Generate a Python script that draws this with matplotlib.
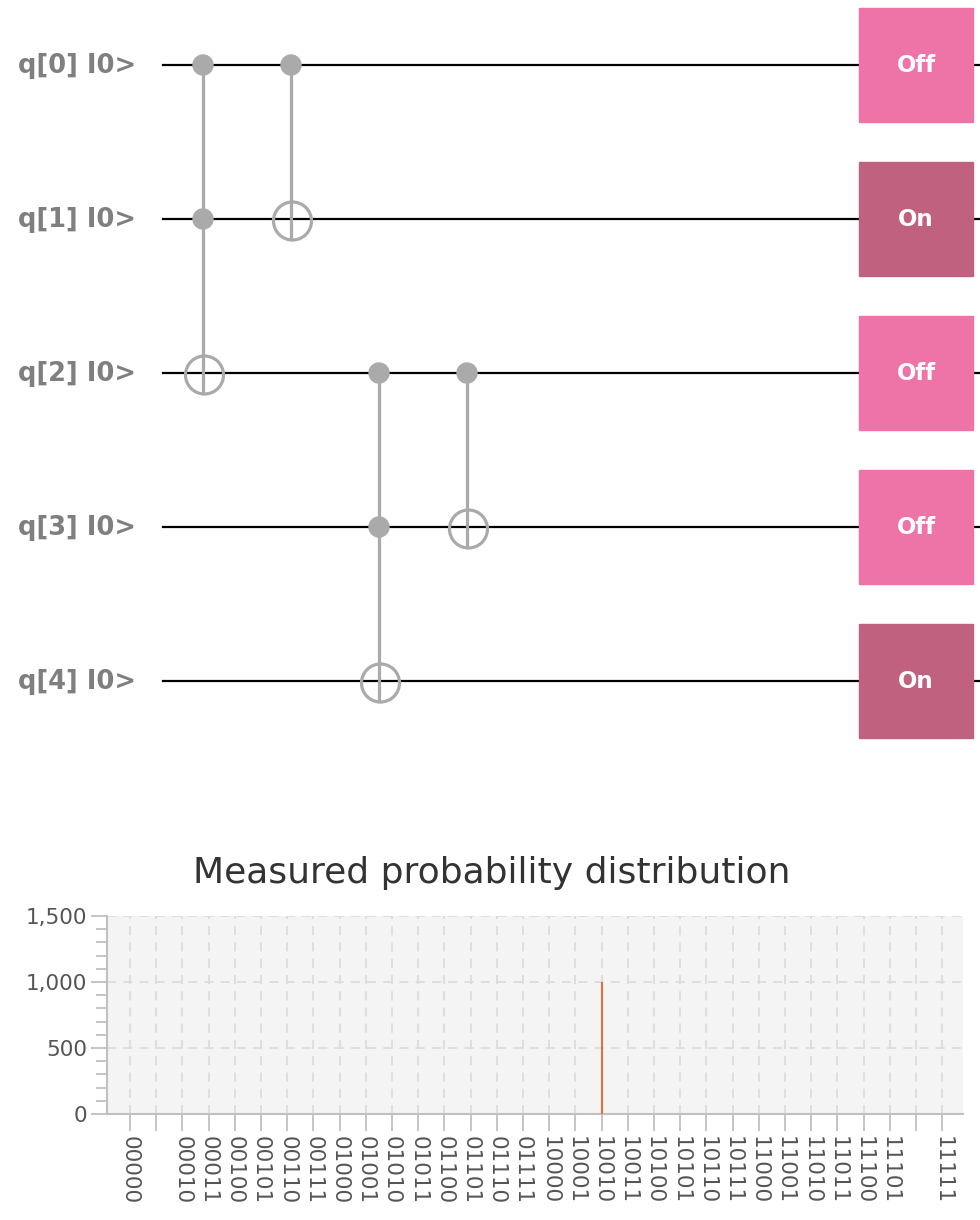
import matplotlib.pyplot as plt
from matplotlib.patches import Circle, Rectangle
from matplotlib.ticker import MultipleLocator, FuncFormatter

# circuit data
qubit_labels = ['q[0] I0>', 'q[1] I0>', 'q[2] I0>', 'q[3] I0>', 'q[4] I0>']
# (controls, target) per column
gates = [([0, 1], 2), ([0], 1), ([2, 3], 4), ([2], 3)]
readout = ['Off', 'On', 'Off', 'Off', 'On']

# measurement data
states = ['00000', '00001', '00010', '00011', '00100', '00101', '00110', '00111',
          '01000', '01001', '01010', '01011', '01100', '01101', '01110', '01111',
          '10000', '10001', '10010', '10011', '10100', '10101', '10110', '10111',
          '11000', '11001', '11010', '11011', '11100', '11101', '11110', '11111']
shown_labels = ['00000', '', '00010', '00011', '00100', '00101', '00110', '00111',
                '01000', '01001', '01010', '01011', '01100', '01101', '01110', '01111',
                '10000', '10001', '10010', '10011', '10100', '10101', '10110', '10111',
                '11000', '11001', '11010', '11011', '11100', '11101', '', '11111']
counts = [0, 0, 0, 0, 0, 0, 0, 0, 0, 0, 0, 0, 0, 0, 0, 0,
          0, 0, 1000, 0, 0, 0, 0, 0, 0, 0, 0, 0, 0, 0, 0, 0]

gate_color = '#aaaaaa'
colors = {'Off': '#ee73a7', 'On': '#bf617f'}

fig = plt.figure(figsize=(9.8, 12.2), dpi=100)

# ---- circuit, drawn in pixel-like units
ax = fig.add_axes([0, 1 - 760 / 1220, 1, 760 / 1220])
ax.set_xlim(0, 980)
ax.set_ylim(760, 0)
ax.axis('off')

wire_y0, wire_gap = 65, 154
col_x0, col_gap = 203, 88
box_x, box_size = 859, 114

for i, lab in enumerate(qubit_labels):
    y = wire_y0 + i * wire_gap
    ax.plot([163, 980], [y, y], color='black', lw=1.6, zorder=1)
    ax.text(18, y + 1, lab, ha='left', va='center', fontsize=18.5,
            fontweight='bold', color='#7f7f7f')
    ax.add_patch(Rectangle((box_x, y - box_size / 2), box_size, box_size,
                           color=colors[readout[i]], zorder=3))
    ax.text(box_x + box_size / 2, y, readout[i], ha='center', va='center',
            fontsize=16.5, fontweight='bold', color='white', zorder=4)

for c, (ctrls, tgt) in enumerate(gates):
    x = col_x0 + c * col_gap
    ys = [wire_y0 + q * wire_gap for q in ctrls]
    ty = wire_y0 + tgt * wire_gap
    ax.plot([x, x], [min(ys + [ty]), ty + 20], color=gate_color, lw=2.3, zorder=2)
    for y in ys:
        ax.add_patch(Circle((x, y), 10, color=gate_color, zorder=2))
    ax.add_patch(Circle((x + 1.5, ty + 2), 19, fill=False, ec=gate_color,
                        lw=2.3, zorder=2))

# ---- histogram
hx = fig.add_axes([107 / 980, 106 / 1220, 856 / 980, 198 / 1220])
hx.set_facecolor('#f4f4f4')
pos = list(range(len(states)))
hx.bar(pos, counts, width=0.08, color='#f5643c', zorder=3)
hx.set_xlim(-0.88, 31.79)
hx.set_ylim(0, 1500)
hx.set_xticks(pos)
hx.set_xticklabels(shown_labels, rotation=-90, fontsize=15.5, color='#555555')
hx.yaxis.set_major_locator(MultipleLocator(500))
hx.yaxis.set_minor_locator(MultipleLocator(100))
hx.yaxis.set_major_formatter(FuncFormatter(lambda v, p: f'{int(v):,}'))
hx.tick_params(axis='y', which='major', length=11.5, width=1.3, color='#c0c0c0',
               labelsize=15.5, labelcolor='#555555', pad=3)
hx.tick_params(axis='y', which='minor', length=8, width=1.3, color='#c0c0c0')
hx.tick_params(axis='x', length=12, width=1.3, color='#c0c0c0', pad=4)
hx.grid(True, which='major', ls=(0, (5, 4)), color='#dcdcdc', lw=1.3, zorder=0)
for s in ['top', 'right']:
    hx.spines[s].set_visible(False)
for s in ['left', 'bottom']:
    hx.spines[s].set_color('#c0c0c0')
    hx.spines[s].set_linewidth(1.5)

fig.text(0.502, 1 - 873 / 1220, 'Measured probability distribution',
         ha='center', va='center', fontsize=26, color='#333333')

fig.savefig('out.png', dpi=100)
